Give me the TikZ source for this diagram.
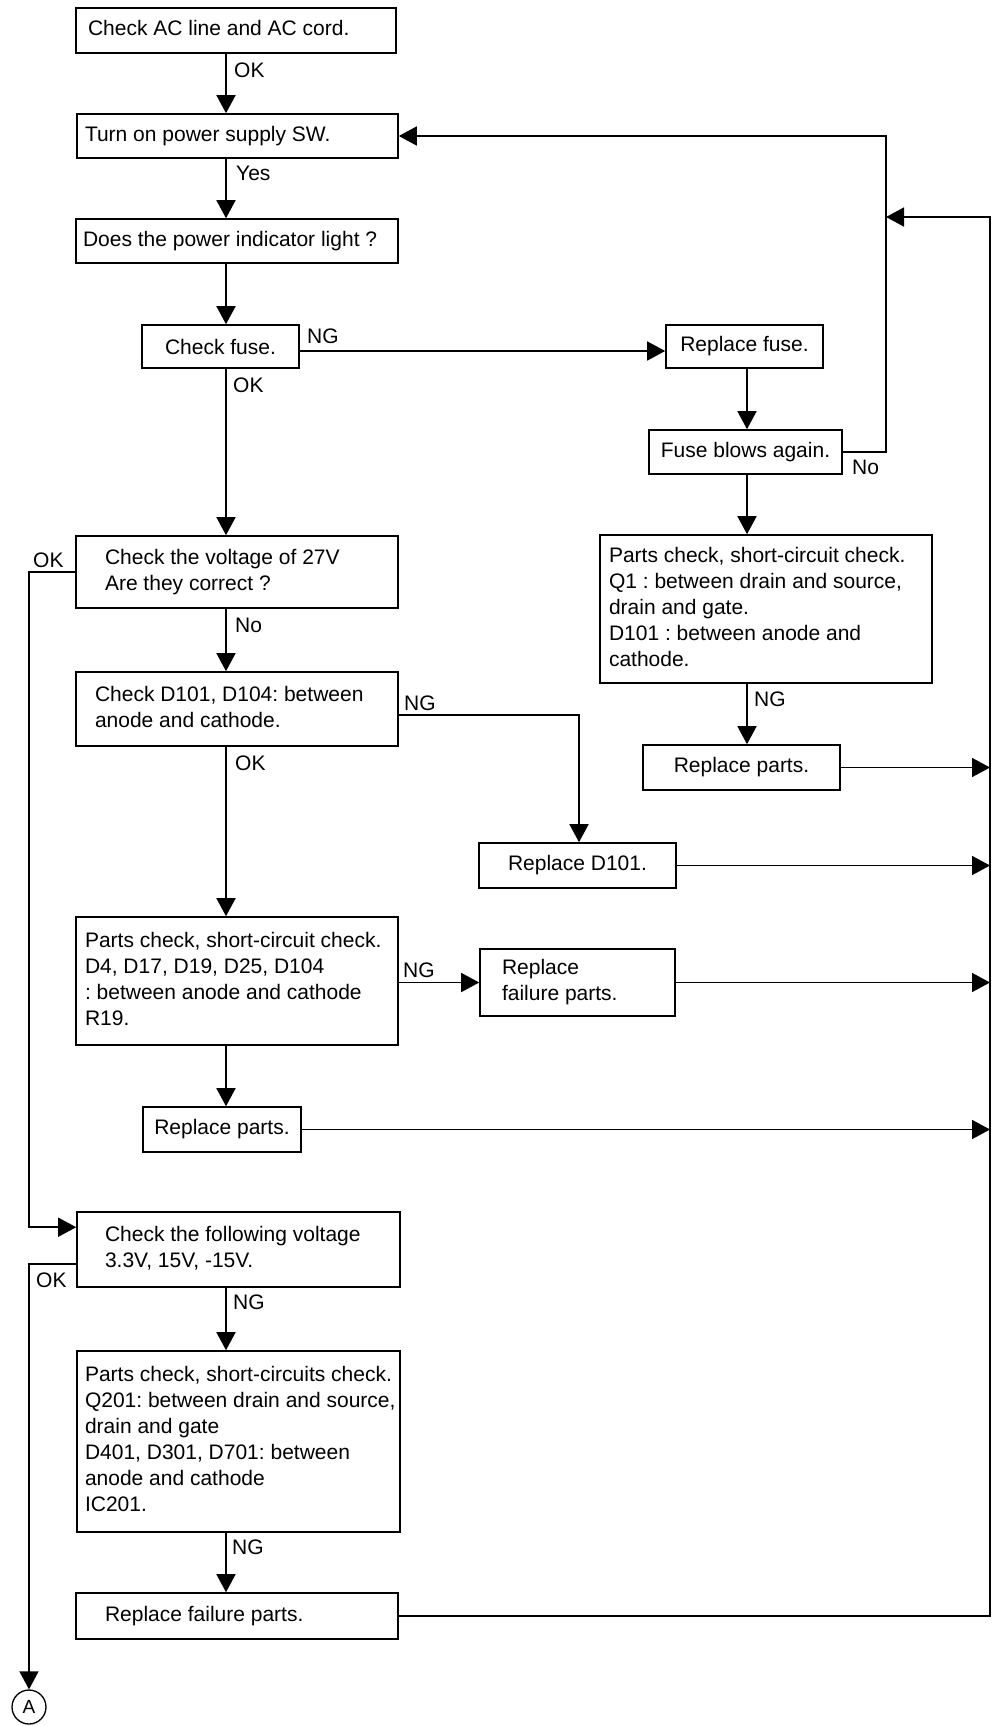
\documentclass[tikz,border=0pt]{standalone}
\usepackage{fontspec}
\setmainfont{Liberation Sans}
\usetikzlibrary{arrows.meta,calc}
\frenchspacing
\newcommand{\lbtext}[3]{\makebox[#1][l]{\hspace*{#2}\begin{tabular}{@{}l@{}}#3\end{tabular}}}
\begin{document}
\begin{tikzpicture}[x=1pt,y=-1pt,
  every node/.style={font=\fontsize{21}{26}\selectfont},
  box/.style={draw, line width=1.6pt, inner sep=0pt},
  lbox/.style n args={2}{box, minimum width=#1, minimum height=#2},
  cbox/.style n args={2}{box, minimum width=#1, minimum height=#2, align=center},
  lab/.style={inner sep=0pt, anchor=west},
  conn/.style={line width=1.6pt},
  arr/.style={conn, -{Triangle[length=18pt,width=19pt]}}]
\fill[white] (0,0) rectangle (998,1726);
\useasboundingbox (0,0) rectangle (998,1726);

% boxes
\node[lbox={320pt}{45pt}] (b1) at (236,30.5) {\lbtext{320pt}{12pt}{Check AC line and AC cord.}};
\node[lbox={321pt}{44pt}] (b2) at (237.5,136) {\lbtext{321pt}{8pt}{Turn on power supply SW.}};
\node[lbox={322pt}{44pt}] (b3) at (237,241) {\lbtext{322pt}{7pt}{Does the power indicator light ?}};
\node[cbox={157pt}{43pt}] (fuse) at (220.5,346.5) {Check fuse.};
\node[cbox={157pt}{43pt}] (rfuse) at (744.5,346.5) {Replace fuse.};
\node[cbox={193pt}{44pt}] (blow) at (745.5,452) {Fuse blows again.};
\node[lbox={332pt}{148pt}] (pc1) at (766,609) {\lbtext{332pt}{9pt}{Parts check, short-circuit check.\\Q1 : between drain and source,\\drain and gate.\\D101 : between anode and\\cathode.}};
\node[cbox={197pt}{45pt}] (rp1) at (741.5,767.5) {Replace parts.};
\node[lbox={322pt}{72pt}] (v27) at (237,572) {\lbtext{322pt}{29pt}{Check the voltage of 27V\\Are they correct ?}};
\node[lbox={322pt}{74pt}] (d101) at (237,709) {\lbtext{322pt}{19pt}{Check D101, D104: between\\anode and cathode.}};
\node[cbox={197pt}{45pt}] (rd101) at (577.5,865.5) {Replace D101.};
\node[lbox={322pt}{128pt}] (pc2) at (237,981) {\lbtext{322pt}{9pt}{Parts check, short-circuit check.\\D4, D17, D19, D25, D104\\: between anode and cathode\\R19.}};
\node[lbox={195pt}{67pt}] (rfp) at (577.5,982.5) {\lbtext{195pt}{22pt}{Replace\\failure parts.}};
\node[cbox={158pt}{45pt}] (rp2) at (222,1129.5) {Replace parts.};
\node[lbox={323pt}{75pt}] (fv) at (238.5,1249.5) {\lbtext{323pt}{28pt}{Check the following voltage\\3.3V, 15V, -15V.}};
\node[lbox={323pt}{181pt}] (pc3) at (238.5,1441.5) {\lbtext{323pt}{8pt}{Parts check, short-circuits check.\\Q201: between drain and source,\\drain and gate\\D401, D301, D701: between\\anode and cathode\\IC201.}};
\node[lbox={322pt}{46pt}] (rfp2) at (237,1616) {\lbtext{322pt}{29pt}{Replace failure parts.}};
\node[draw, circle, line width=1.3pt, minimum size=34pt, inner sep=0pt, font=\fontsize{19}{22}\selectfont] (A) at (29,1707) {A};

% helper coordinates
\coordinate (mx) at (226,0);
\coordinate (rx) at (747,0);
\coordinate (lp) at (886,0);
\coordinate (rr) at (990,0);
\coordinate (lx) at (29,0);
\coordinate (dx) at (579,0);
\coordinate (jn) at (886,217);
\coordinate (fvin) at ($(fv.north west)+(0,16)$);
\coordinate (fvout) at ($(fv.south west)+(0,-24)$);
\coordinate (fuseo) at ($(fuse.east)+(0,4.5)$);
\coordinate (d101o) at ($(d101.east)+(0,6)$);

% main column
\draw[arr] (b1.south -| mx) -- (b2.north -| mx);
\draw[arr] (b2.south -| mx) -- (b3.north -| mx);
\draw[arr] (b3.south -| mx) -- (fuse.north -| mx);
\draw[arr] (fuse.south -| mx) -- (v27.north -| mx);
\draw[arr] (v27.south -| mx) -- (d101.north -| mx);
\draw[arr] (d101.south -| mx) -- (pc2.north -| mx);
\draw[arr] (pc2.south -| mx) -- (rp2.north -| mx);
\draw[arr] (fv.south -| mx) -- (pc3.north -| mx);
\draw[arr] (pc3.south -| mx) -- (rfp2.north -| mx);

% fuse branch
\draw[arr] (fuseo) -- (fuseo -| rfuse.west);
\draw[arr] (rfuse.south -| rx) -- (blow.north -| rx);
\draw[arr] (blow.south -| rx) -- (pc1.north -| rx);
\draw[arr] (pc1.south -| rx) -- (rp1.north -| rx);
\draw[arr] (blow.east) -- (blow.east -| lp) -- (lp |- b2.east) -- (b2.east);

% side branches
\draw[arr] (d101o) -- (d101o -| dx) -- (dx |- rd101.north);
\draw[arr] (pc2.east |- rfp.west) -- (rfp.west);

% to the right return line
\draw[arr] (rp1.east) -- (rp1.east -| rr);
\draw[arr] (rd101.east) -- (rd101.east -| rr);
\draw[arr] (rfp.east) -- (rfp.east -| rr);
\draw[arr] (rp2.east) -- (rp2.east -| rr);
\draw[arr] (rfp2.east) -- (rfp2.east -| rr) -- (rr |- jn) -- (jn);

% left OK branches
\draw[arr] (v27.west) -- (v27.west -| lx) -- (lx |- fvin) -- (fvin);
\draw[arr] (fvout) -- (fvout -| lx) -- (A.north);

% labels
\node[lab] (l1) at (234,70) {OK};
\node[lab] (l2) at (236,173) {Yes};
\node[lab] (l3) at (307,336) {NG};
\node[lab] (l4) at (233,385) {OK};
\node[lab] (l5) at (852,467) {No};
\node[lab] (l6) at (754,699) {NG};
\node[lab] (l7) at (33,560) {OK};
\node[lab] (l8) at (235,625) {No};
\node[lab] (l9) at (404,703) {NG};
\node[lab] (l10) at (235,763) {OK};
\node[lab] (l11) at (403,970) {NG};
\node[lab] (l12) at (36,1280) {OK};
\node[lab] (l13) at (233,1302) {NG};
\node[lab] (l14) at (232,1547) {NG};
\end{tikzpicture}
\end{document}
